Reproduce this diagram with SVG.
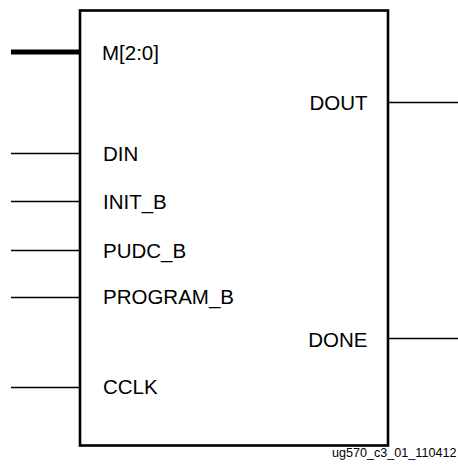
<svg xmlns="http://www.w3.org/2000/svg" width="458" height="468" viewBox="0 0 458 468">
<style>
.pin{stroke:#000;stroke-width:1.3;fill:none}
.bus{stroke:#000;stroke-width:4.8;fill:none}
.box{stroke:#000;stroke-width:2.6;fill:#fff}
.lbl{font-family:"Liberation Sans",Arial,sans-serif;font-size:20.5px;fill:#000}
.r{text-anchor:end}
.note{font-family:"Liberation Sans",Arial,sans-serif;font-size:12.6px;fill:#000}
</style>
<rect width="458" height="468" fill="#fff"/>
<g id="connectors">
<line class="bus" x1="11" y1="52" x2="80" y2="52"/>
<line class="pin" x1="11" y1="153.5" x2="80" y2="153.5"/>
<line class="pin" x1="11" y1="201.5" x2="80" y2="201.5"/>
<line class="pin" x1="11" y1="250.5" x2="80" y2="250.5"/>
<line class="pin" x1="11" y1="297.5" x2="80" y2="297.5"/>
<line class="pin" x1="11" y1="387.5" x2="80" y2="387.5"/>
<line class="pin" x1="388" y1="102.5" x2="458" y2="102.5"/>
<line class="pin" x1="388" y1="338.5" x2="458" y2="338.5"/>
</g>
<g id="block">
<rect class="box" x="80" y="10.5" width="308" height="435"/>
<text class="lbl" x="102" y="59.5">M[2:0]</text>
<text class="lbl" x="103" y="161">DIN</text>
<text class="lbl" x="103" y="209">INIT_B</text>
<text class="lbl" x="103" y="258">PUDC_B</text>
<text class="lbl" x="103" y="304">PROGRAM_B</text>
<text class="lbl" x="103" y="394">CCLK</text>
<text class="lbl r" x="367.5" y="109.5">DOUT</text>
<text class="lbl r" x="367.5" y="347">DONE</text>
</g>
<text class="note" x="332" y="457">ug570_c3_01_110412</text>
</svg>
